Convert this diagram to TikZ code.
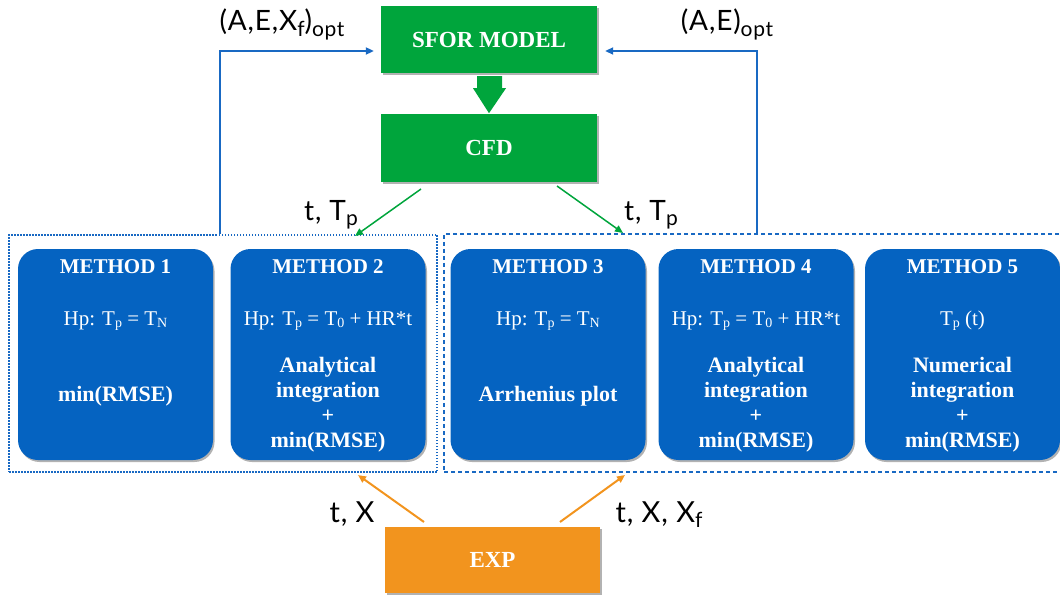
\documentclass[tikz,border=0pt]{standalone}
\usepackage{fontspec}
\setmainfont{Liberation Serif}
\newfontfamily\labfont[LetterSpace=3]{Lato}
\usetikzlibrary{arrows.meta,shadows,calc}
\definecolor{mblue}{RGB}{5,99,193}
\definecolor{lblue}{RGB}{25,105,195}
\definecolor{sgreen}{RGB}{0,165,60}
\definecolor{eorange}{RGB}{242,148,30}
\newcommand\lo[1]{\raisebox{-0.3ex}{\fontsize{14}{14}\selectfont #1}}
\newcommand\ls[1]{\raisebox{-0.4ex}{\fontsize{21}{21}\selectfont #1}}
\begin{document}
\begin{tikzpicture}[x=1pt,y=-1pt,
  shad/.style={drop shadow={shadow xshift=1.5pt,shadow yshift=-2pt,opacity=0.3,fill=black}},
  mbox/.style={fill=mblue,rounded corners=20pt,minimum width=195pt,minimum height=211pt,inner sep=0,shad},
  gbox/.style={fill=sgreen,minimum width=216pt,minimum height=67pt,inner sep=0,text=white,font=\fontsize{23}{23}\selectfont\bfseries,shad},
  ebox/.style={fill=eorange,minimum width=215pt,minimum height=66pt,inner sep=0,text=white,font=\fontsize{23}{23}\selectfont\bfseries,shad},
  mhead/.style={text=white,font=\fontsize{21}{21}\selectfont\bfseries,anchor=base,inner sep=0},
  mhp/.style={text=white,font=\fontsize{21}{21}\selectfont,anchor=base,inner sep=0},
  mbody/.style={text=white,font=\fontsize{22}{25}\selectfont\bfseries,anchor=base,inner sep=0,align=center},
  lbl/.style={font=\labfont\fontsize{28}{28}\selectfont,anchor=base,inner sep=0},
  tip/.style={-{Triangle[length=8pt,width=7pt]}},
  bline/.style={draw=lblue,line width=2pt,tip},
  gline/.style={draw=sgreen,line width=1.5pt,tip},
  oline/.style={draw=eorange,line width=2pt,tip},
  dotbox/.style={draw=lblue,line width=2pt,dash pattern=on 1.5pt off 1.5pt,minimum width=428pt,minimum height=237pt,inner sep=0},
  dashbox/.style={draw=lblue,line width=1.8pt,dash pattern=on 4pt off 3pt,minimum width=626pt,minimum height=238pt,inner sep=0}
]
\useasboundingbox (0,0) rectangle (1060,599);

% group boxes
\node[dotbox] (lbox) at (223,353.5) {};
\node[dashbox] (rbox) at (757,353) {};

% top boxes
\node[gbox] (sfor) at (489,39.5) {SFOR MODEL};
\node[gbox,minimum height=68pt] (cfd) at (489,148) {CFD};
\node[ebox] (exp) at (492.5,560) {EXP};

% block arrow
\begin{scope}[shift={(sfor.south)}]
\fill[sgreen] (-12,3) -- (13,3) -- (13,15) -- (17,15) -- (0,40) -- (-16,15) -- (-12,15) -- cycle;
\end{scope}

% method boxes
\node[mbox] (m1) at (115.5,354.5) {};
\node[mbox] (m2) at (328,354.5) {};
\node[mbox] (m3) at (548,354.5) {};
\node[mbox] (m4) at (756,354.5) {};
\node[mbox] (m5) at (962.5,354.5) {};

\node[mhead] (m1h) at (115.5,273) {METHOD 1};
\node[mhead] (m2h) at (328,273) {METHOD 2};
\node[mhead] (m3h) at (548,273) {METHOD 3};
\node[mhead] (m4h) at (756,273) {METHOD 4};
\node[mhead] (m5h) at (962.5,273) {METHOD 5};

\node[mhp] (m1p) at (115.5,325) {Hp: T\lo{p} = T\lo{N}};
\node[mhp] (m2p) at (328,325) {Hp: T\lo{p} = T\lo{0} + HR*t};
\node[mhp] (m3p) at (548,325) {Hp: T\lo{p} = T\lo{N}};
\node[mhp] (m4p) at (756,325) {Hp: T\lo{p} = T\lo{0} + HR*t};
\node[mhp] (m5p) at (962.5,325) {T\lo{p} (t)};

\node[mbody] (m1b) at (115.5,401) {min(RMSE)};
\node[mbody] (m2b) at (328,447) {Analytical\\integration\\+\\min(RMSE)};
\node[mbody] (m3b) at (548,401) {Arrhenius plot};
\node[mbody] (m4b) at (756,447) {Analytical\\integration\\+\\min(RMSE)};
\node[mbody] (m5b) at (962.5,447) {Numerical\\integration\\+\\min(RMSE)};

% feedback lines
\coordinate (lx) at (220,51);
\coordinate (rx) at (757,51);
\draw[bline,shorten >=7pt] (lbox.north -| lx) -- (lx) -- (lx -| sfor.west);
\draw[bline,shorten >=8pt] (rbox.north -| rx) -- (rx) -- (rx -| sfor.east);
\node[lbl] (lab1) at (282,31) {(A,E,X\ls{f})\ls{opt}};
\node[lbl] (lab2) at (727,31) {(A,E)\ls{opt}};

% CFD outputs
\coordinate (g1s) at (421,189);
\coordinate (g1e) at (355,236);
\coordinate (g2s) at (557,186);
\coordinate (g2e) at (623,233);
\draw[gline] (g1s) -- (g1e);
\draw[gline] (g2s) -- (g2e);
\node[lbl] (lab3) at (331,220) {t, T\ls{p}};
\node[lbl] (lab4) at (651,220) {t, T\ls{p}};

% EXP outputs
\coordinate (o1s) at (424,522);
\coordinate (o1e) at (358,475);
\coordinate (o2s) at (560,522);
\coordinate (o2e) at (625,475);
\draw[oline] (o1s) -- (o1e);
\draw[oline] (o2s) -- (o2e);
\node[lbl,font=\labfont\fontsize{29}{29}\selectfont] (lab5) at (352,522) {t, X};
\node[lbl,font=\labfont\fontsize{29}{29}\selectfont] (lab6) at (659,522) {t, X, X\ls{f}};
\end{tikzpicture}
\end{document}
